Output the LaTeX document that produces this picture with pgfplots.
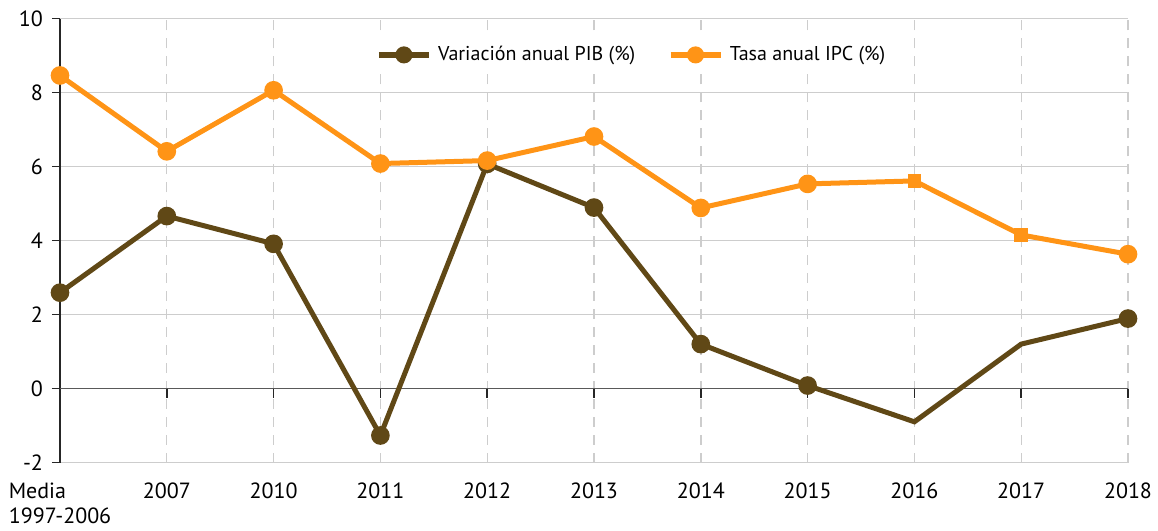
\documentclass[border=0pt]{standalone}
\usepackage{pgfplots}
\pgfplotsset{compat=1.18}
\usepackage{fontspec}
\setmainfont{PT Sans}
\definecolor{pib}{RGB}{96,72,22}
\definecolor{ipc}{RGB}{255,148,22}
\definecolor{gridc}{RGB}{205,205,205}
\begin{document}
\begin{tikzpicture}
\begin{axis}[
  scale only axis,
  width=534pt, height=222pt,
  xmin=0, xmax=10, ymin=-2, ymax=10,
  axis x line*=bottom,
  axis y line*=left,
  x axis line style={gridc, line width=0.9pt, -},
  y axis line style={black!85, line width=0.8pt, -},
  ytick={-2,0,...,10},
  ytick style={black!85, line width=0.8pt},
  xtick style={draw=none},
  major tick length=4pt,
  tick align=outside,
  ymajorgrids,
  grid style={gridc, line width=0.7pt},
  extra y ticks={0},
  extra y tick labels={},
  extra y tick style={grid style={black!65, line width=0.9pt}},
  xtick={0,...,10},
  xmajorgrids,
  x grid style={gridc, dash pattern=on 5pt off 4pt, line width=0.7pt},
  xticklabels={{Media\\1997-2006},2007,2010,2011,2012,2013,2014,2015,2016,2017,2018},
  xticklabel style={align=left, anchor=north, yshift=-6pt, inner sep=0pt},
  /pgf/number format/assume math mode=true,
  tick label style={font=\fontsize{11}{12.5}\selectfont},
  yticklabel style={xshift=-1pt},
  legend style={at={(0.536,0.918)}, anchor=center, draw=none, fill=white,
    legend columns=2, font=\fontsize{10}{12}\selectfont,
    /tikz/every even column/.append style={column sep=14pt},
    /tikz/every odd column/.append style={column sep=1pt}},
  legend image code/.code={
    \draw[#1, mark=none, line width=3.2pt] (0cm,0cm) -- (0.88cm,0cm);
    \draw[#1, only marks, mark size=3pt] plot coordinates {(0.44cm,0cm)};},
  clip=false,
]
\addplot[pib, line width=2.5pt, mark=*, mark size=3.4pt, mark indices={1,2,3,4,5,6,7,8,11}, mark options={solid}]
  coordinates {(0,2.59) (1,4.66) (2,3.91) (3,-1.27) (4,6.07) (5,4.89) (6,1.20) (7,0.08) (8,-0.90) (9,1.20) (10,1.89)};
\addlegendentry{Variación anual PIB (\%)}
\addplot[ipc, line width=2.5pt, mark=*, mark size=3.4pt, mark indices={1,2,3,4,5,6,7,8,11}, mark options={solid}]
  coordinates {(0,8.46) (1,6.41) (2,8.06) (3,6.08) (4,6.16) (5,6.81) (6,4.88) (7,5.53) (8,5.61) (9,4.15) (10,3.63)};
\addlegendentry{Tasa anual IPC (\%)}
\addplot[ipc, only marks, mark=square*, mark size=3.2pt, forget plot]
  coordinates {(8,5.61) (9,4.15)};
\pgfplotsinvokeforeach{0,...,10}{
  \draw[black!85, line width=0.8pt] (axis cs:#1,0) -- ([yshift=-4.5pt]axis cs:#1,0);
}
\end{axis}
\useasboundingbox (-30pt,-34pt) rectangle (549pt,231.25pt);
\end{tikzpicture}
\end{document}
